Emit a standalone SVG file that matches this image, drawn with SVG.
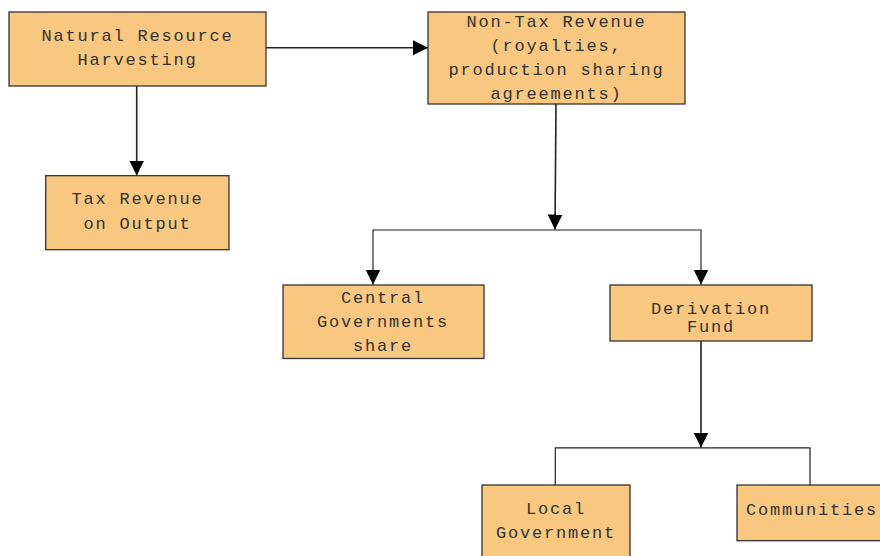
<svg xmlns="http://www.w3.org/2000/svg" width="880" height="556" viewBox="0 0 880 556">
<defs>
<style>
.box{fill:#F8C880;stroke:#333;stroke-width:1.3}
.t{font-family:"Liberation Mono",monospace;font-size:17px;letter-spacing:1.8px;fill:#333;text-anchor:middle}
.c{fill:none;stroke:#222;stroke-width:1.6}
.b{fill:none;stroke:#222;stroke-width:1.2}
</style>
<marker id="ah" markerUnits="userSpaceOnUse" markerWidth="16" markerHeight="16" viewBox="0 0 16 16" refX="15" refY="8" orient="auto">
<path d="M0,0.5 L15,8 L0,15.5 Z" fill="#000"/>
</marker>
</defs>
<rect width="880" height="556" fill="#fff"/>
<g id="connectors">
<path class="c" d="M263,47.7 H428" marker-end="url(#ah)"/>
<path class="c" d="M136.7,84 V175.5" marker-end="url(#ah)"/>
<path class="c" d="M556,104 L555,229.5" marker-end="url(#ah)"/>
<path class="b" d="M555,230 H373 V284.5" marker-end="url(#ah)"/>
<path class="b" d="M555,230 H701 V284.5" marker-end="url(#ah)"/>
<path class="c" d="M701,339 V447.5" marker-end="url(#ah)"/>
<path class="b" d="M555.3,485 V447.8 H810 V485"/>
</g>
<g id="natural-resource">
<rect class="box" x="9" y="12" width="257" height="74"/>
<text class="t" x="137.5" y="40.7">Natural Resource</text>
<text class="t" x="137.5" y="64.7">Harvesting</text>
</g>
<g id="non-tax-revenue">
<rect class="box" x="428" y="12" width="257" height="92"/>
<text class="t" x="556.5" y="26.5">Non-Tax Revenue</text>
<text class="t" x="556.5" y="50.5">(royalties,</text>
<text class="t" x="556.5" y="74.5">production sharing</text>
<text class="t" x="556.5" y="98.5">agreements)</text>
</g>
<g id="tax-revenue">
<rect class="box" x="45.7" y="175.7" width="183.3" height="74"/>
<text class="t" x="137.4" y="204.3">Tax Revenue</text>
<text class="t" x="137.4" y="228.5">on Output</text>
</g>
<g id="central-government">
<rect class="box" x="283" y="285" width="201" height="73.5"/>
<text class="t" x="383" y="302.7">Central</text>
<text class="t" x="383" y="326.7">Governments</text>
<text class="t" x="383" y="350.7">share</text>
</g>
<g id="derivation-fund">
<rect class="box" x="610" y="285" width="202" height="56"/>
<text class="t" x="711" y="314">Derivation</text>
<text class="t" x="711" y="332.3">Fund</text>
</g>
<g id="local-government">
<rect class="box" x="482" y="485" width="148" height="80"/>
<text class="t" x="556" y="514.3">Local</text>
<text class="t" x="556" y="538.3">Government</text>
</g>
<g id="communities">
<rect class="box" x="737" y="485" width="160" height="55.7"/>
<text class="t" x="812" y="515">Communities</text>
</g>
</svg>
